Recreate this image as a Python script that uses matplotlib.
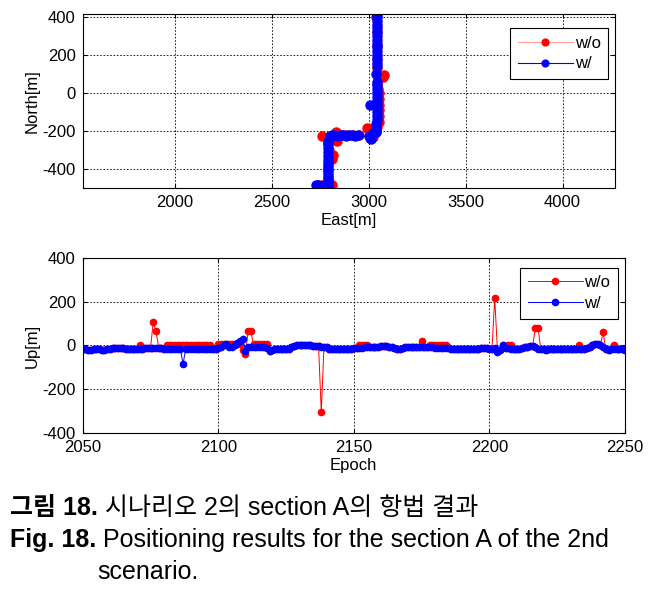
import numpy as np
import matplotlib
matplotlib.use('Agg')
import matplotlib.pyplot as plt

plt.rcParams['font.family'] = ['Liberation Sans', 'Noto Sans CJK KR']
plt.rcParams['font.size'] = 12
plt.rcParams['axes.unicode_minus'] = False

# ---- top: East / North trajectory ----
east_w = [2730, 2740, 2750, 2760, 2770, 2780, 2790,
          2792, 2790, 2788, 2790, 2792, 2790, 2788, 2790, 2792, 2790, 2788, 2790, 2795, 2800,
          2810, 2825, 2840, 2855, 2870, 2885, 2900, 2915, 2930, 2945,
          3005, 3010, 3000, 3015, 3025, 3035, 3040,
          3040, 3040, 3041, 3041, 3042, 3042, 3042, 3005, 3042, 3042, 3042, 3043, 3043, 3043,
          3040, 3042, 3043, 3043, 3044, 3044, 3044, 3044, 3044, 3044, 3044, 3045, 3045,
          3045, 3045, 3045]
north_w = [-485, -485, -486, -486, -485, -485, -483,
           -465, -445, -425, -405, -390, -370, -350, -330, -310, -290, -270, -255, -240, -228,
           -222, -222, -223, -222, -222, -223, -222, -222, -223, -222,
           -235, -240, -225, -215, -210, -205, -195,
           -180, -160, -140, -120, -100, -80, -60, -60, -40, -20, 0, 20, 40, 60,
           100, 140, 160, 180, 200, 220, 240, 260, 280, 300, 320, 340, 360,
           380, 400, 410]

east_wo = [2760, 2740, 2760, 2780, 2810, 2795, 2792, 2790, 2792, 2810, 2815, 2795, 2790,
           2795, 2760, 2800, 2830, 2835, 2830, 2860, 2890, 2920, 2950, 2990, 3010, 3020,
           3035, 3045, 3052, 3053, 3053, 3051, 3052, 3051, 3050, 3045, 3072, 3080, 3045,
           3043, 3044, 3045, 3040]
north_wo = [-497, -485, -485, -485, -482, -465, -440, -410, -380, -345, -328, -300, -270,
            -240, -226, -225, -205, -252, -222, -222, -222, -222, -222, -185, -190, -230,
            -205, -180, -150, -120, -90, -60, -30, 0, 20, 50, 84, 95, 130,
            180, 250, 320, 400]

# ---- bottom: Up vs epoch ----
epoch = np.arange(2050, 2251)
up_w = [-15, -18, -20, -20, -18, -15, -18, -20, -20, -18,
        -15, -12, -12, -12, -12, -12, -14, -15, -15, -14,
        -15, -15, -14, -12, -10, -10, -10, -10, -10, -12,
        -15, -15, -18, -18, -16, -15, -15, -85, -15, -15,
        -15, -15, -15, -15, -15, -15, -15, -15, -15, -15,
        -10, -5, 0, 5, -5, -5, 0, 10, 20, 30,
        -25, -5, -5, -5, -5, -5, -5, -8, -10, -25,
        -20, -18, -18, -15, -15, -15, -15, -8, -2, 2,
        3, 3, 3, 2, 0, -2, -2, -3, -5, -5,
        -8, -15, -15, -15, -15, -15, -15, -15, -15, -15,
        -12, -12, -10, -10, -8, -8, -5, -5, -5, -5,
        -3, -3, -3, -5, -5, -10, -15, -15, -10, -5,
        -5, -5, -5, -8, -8, -8, -8, -8, -8, -8,
        -10, -10, -10, -12, -12, -12, -15, -15, -15, -15,
        -15, -15, -15, -15, -15, -15, -15, -12, -12, -12,
        -15, -15, -12, -30, -20, 0, -10, -12, -15, -15,
        -18, -15, -12, -8, -5, -3, -3, -5, -15, -18,
        -18, -20, -18, -18, -18, -18, -15, -15, -15, -15,
        -15, -15, -18, -18, -18, -15, -10, -5, 0, 5,
        5, 2, -5, -18, -20, -18, -18, -18, -18, -18,
        -20]
up_wo = [-15, -18, -20, -20, -18, -15, -18, -20, -20, -18,
         -15, -12, -12, -12, -12, -12, -14, -15, -15, -14,
         -15, 2, -14, -12, -10, -10, 105, 65, -10, -12,
         -15, 0, 3, 3, 3, 3, 3, 3, 3, 3,
         3, 3, 3, 3, 3, 3, 3, 3, -15, -15,
         5, 5, 5, 5, 5, 5, 5, 5, 5, -20,
         -40, 65, 65, 5, 5, 5, 5, 5, 5, -25,
         -20, -18, -18, -15, -15, -15, -15, -8, -2, 2,
         3, 3, 3, 2, 0, -2, -2, -3, -305, -5,
         -8, -15, -15, -15, -15, -15, -15, -15, -15, -15,
         -12, -12, 0, 0, 0, 0, -5, -5, -5, -5,
         -3, -3, -3, -5, -5, -10, -15, -15, -10, -5,
         -5, -5, -5, -8, -8, 20, -8, -8, 3, 3,
         0, 0, 0, 0, 0, -12, -15, -15, -15, -15,
         -15, -15, -15, -15, -15, -15, -15, -12, -12, -12,
         -15, -15, 215, -20, -20, 0, -10, 0, 0, -15,
         -18, -15, -12, -8, -5, -3, -3, 80, 80, -18,
         -18, -20, -18, -18, -18, -18, -15, -15, -15, -15,
         -15, -15, -15, 0, -18, -15, -10, -5, 0, 5,
         5, 2, 60, -18, -20, -18, 0, -18, -18, -18,
         -20]

fig = plt.figure(figsize=(6.57, 5.90), dpi=100)
ax1 = fig.add_axes([0.126, 0.681, 0.810, 0.295])
ax2 = fig.add_axes([0.126, 0.266, 0.825, 0.297])

grid_kw = dict(color='black', linestyle=(0, (2, 2)), linewidth=0.6)
leg_kw = dict(loc='upper right', fancybox=False, edgecolor='black', handlelength=3.3,
              borderpad=0.45, labelspacing=0.35, handletextpad=0.1, framealpha=1,
              borderaxespad=0, fontsize=12)

ax1.plot(east_wo, north_wo, color='#ff9a9a', lw=0.8, marker='o', ms=6.5,
         mfc='red', mec='red', label='w/o')
ax1.plot(east_w, north_w, color='blue', lw=0.8, marker='o', ms=6.5,
         mfc='blue', mec='blue', label='w/')
ax1.set_xlim(1525, 4270)
ax1.set_ylim(-500, 415)
ax1.set_xticks([2000, 2500, 3000, 3500, 4000])
ax1.set_yticks([-400, -200, 0, 200, 400])
ax1.set_xlabel('East[m]', labelpad=2)
ax1.set_ylabel('North[m]', labelpad=2)
ax1.grid(True, **grid_kw)
leg1 = ax1.legend(bbox_to_anchor=(0.987, 0.92), markerscale=0.75, **leg_kw)
leg1.get_frame().set_linewidth(0.8)

ax2.plot(epoch, up_wo, color='red', lw=0.7, marker='o', ms=4.5,
         mfc='red', mec='red', label='w/o')
ax2.plot(epoch, up_w, color='blue', lw=0.7, marker='o', ms=4.5,
         mfc='blue', mec='blue', label='w/')
ax2.set_xlim(2050, 2250)
ax2.set_ylim(-400, 400)
ax2.set_xticks([2050, 2100, 2150, 2200, 2250])
ax2.set_yticks([-400, -200, 0, 200, 400])
ax2.set_xlabel('Epoch', labelpad=2)
ax2.set_ylabel('Up[m]', labelpad=2)
ax2.grid(True, **grid_kw)
leg2 = ax2.legend(bbox_to_anchor=(0.987, 0.943), **leg_kw)
leg2.get_frame().set_linewidth(0.8)

for ax in (ax1, ax2):
    ax.tick_params(direction='in', top=True, right=True, length=3, labelsize=12, pad=5)
    for s in ax.spines.values():
        s.set_linewidth(0.8)

# caption
cap_size = 18
t1 = fig.text(0.015, 0.139, '그림 18.', fontsize=cap_size, fontweight='bold', va='center')
plt.annotate('시나리오 2의 section A의 항법 결과', xy=(1, 0), xycoords=t1,
             xytext=(5, 0), textcoords='offset points', fontsize=cap_size, va='bottom')
t2 = fig.text(0.015, 0.085, 'Fig. 18.', fontsize=cap_size, fontweight='bold', va='center')
plt.annotate('Positioning results for the section A of the 2nd', xy=(1, 0), xycoords=t2,
             xytext=(5, 0), textcoords='offset points', fontsize=cap_size, va='bottom')
fig.text(0.148, 0.031, 'scenario.', fontsize=cap_size, va='center')

fig.savefig('out.png', dpi=100)
